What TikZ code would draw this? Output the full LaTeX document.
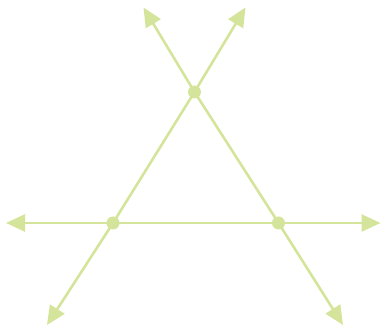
\documentclass[tikz,border=0pt]{standalone}
\usetikzlibrary{arrows.meta}
\definecolor{lg}{RGB}{212,228,155}
\begin{document}
\begin{tikzpicture}[x=1pt,y=-1pt,
  ray/.style={draw=lg,line width=2.6pt,-{Triangle[length=19pt,width=17pt]}},
  seg/.style={draw=lg,line width=2.6pt},
  dot/.style={circle,fill=lg,inner sep=0pt,minimum size=13pt}]
\useasboundingbox (0,0) rectangle (381,328);
\coordinate (T) at (194.5,92);
\coordinate (L) at (113,223);
\coordinate (R) at (278.5,223);
\coordinate (TL) at (143.5,7.5);
\coordinate (TR) at (245.5,7.5);
\coordinate (BL) at (47,325);
\coordinate (BR) at (343,325);
\coordinate (LL) at (6,223);
\coordinate (RR) at (380.5,223);
\draw[seg] (T) -- (L);
\draw[seg] (T) -- (R);
\draw[seg] (L) -- (R);
\draw[ray] (T) -- (TL);
\draw[ray] (T) -- (TR);
\draw[ray] (L) -- (BL);
\draw[ray] (R) -- (BR);
\draw[ray] (L) -- (LL);
\draw[ray] (R) -- (RR);
\node[dot] (nT) at (T) {};
\node[dot] (nL) at (L) {};
\node[dot] (nR) at (R) {};
\end{tikzpicture}
\end{document}
